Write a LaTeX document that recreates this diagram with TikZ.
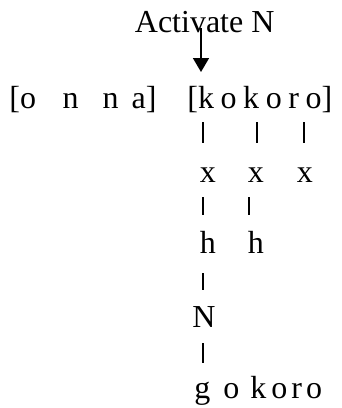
\documentclass[tikz,border=0pt]{standalone}
\usepackage{fontspec}
\setmainfont{Liberation Serif}
\usetikzlibrary{arrows.meta}
\tikzstyle{txt} = [anchor=base west,inner sep=0pt,font=\fontsize{16}{19}\selectfont]
\tikzstyle{bar} = [line width=.9pt]
\tikzstyle{pointer} = [line width=.8pt,-{Triangle[width=8pt,length=7pt]}]
\newcommand{\gp}[1]{\hspace{#1pt}}

\begin{document}
\begin{tikzpicture}[x=.5pt,y=-.5pt]
	\useasboundingbox (0,0) rectangle (342,408);
	\coordinate (colA) at (203,0);
	\coordinate (colB) at (257,0);
	\coordinate (colC) at (304,0);
	\coordinate (colD) at (249,0);
	\coordinate (colT) at (201,0);

	\node [txt](act) at (134.5,32){Activate N};
	\node [txt](onna) at (9,108){[o\gp{13.25}n\gp{12}n\gp{6.6}a]};
	\node [txt](kokoro) at (187,108){[k\gp{3.3}o\gp{3.3}k\gp{3.3}o\gp{3.3}r\gp{3.3}o]};
	\node [txt](xrow) at (199.5,182){x\gp{16}x\gp{16.5}x};
	\node [txt](hrow) at (199.5,253){h\gp{16}h};
	\node [txt](nn) at (192,327){N};
	\node [txt](gokoro) at (194,398){g\gp{6.5}o\gp{5.5}k\gp{2.5}o\gp{2}r\gp{2}o};

	\draw[pointer](act.base -| colT) ++(0,-4) -- ++(0,44);
	\draw[bar](kokoro.base -| colA) ++(0,14) -- ++(0,21);
	\draw[bar](kokoro.base -| colB) ++(0,14) -- ++(0,21);
	\draw[bar](kokoro.base -| colC) ++(0,14) -- ++(0,21);
	\draw[bar](xrow.base -| colA) ++(0,15) -- ++(0,18);
	\draw[bar](xrow.base -| colD) ++(0,15) -- ++(0,18);
	\draw[bar](hrow.base -| colA) ++(0,20) -- ++(0,17);
	\draw[bar](nn.base -| colA) ++(0,16) -- ++(0,20);
\end{tikzpicture}
\end{document}
